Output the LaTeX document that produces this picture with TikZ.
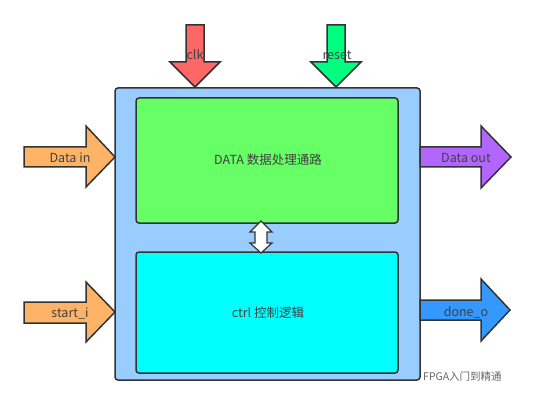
\documentclass[tikz,border=0pt]{standalone}
\usepackage{fontspec}
\setmainfont{Noto Sans CJK SC}
\begin{document}
\begin{tikzpicture}[x=1pt,y=-1pt,
  outl/.style={draw=black!80,line width=1.5pt,line join=miter},
  lbl/.style={text=black!75,font=\fontsize{12.5}{14}\selectfont,inner sep=0pt},
  boxs/.style={outl,rounded corners=3pt}]
\useasboundingbox (0,0) rectangle (535,406);
% outer box
\draw[boxs,fill={rgb,255:red,153;green,204;blue,255}] (115,88) rectangle (420,380);
% data path
\draw[boxs,fill={rgb,255:red,102;green,255;blue,102}] (136,98) rectangle (398,223);
\node[lbl] (data) at (268,160) {DATA 数据处理通路};
% ctrl
\draw[boxs,fill={rgb,255:red,0;green,255;blue,255}] (136,252) rectangle (398,373);
\node[lbl] (ctrl) at (268,313) {ctrl 控制逻辑};
% double arrow
\draw[outl,fill=white,line width=1.2pt] (261,221) -- (272,232) -- (267,232) -- (267,243) -- (272,243) -- (261,253)
  -- (250,243) -- (255,243) -- (255,232) -- (250,232) -- cycle;
% clk
\draw[outl,fill={rgb,255:red,255;green,102;blue,102}] (186,25) -- (204,25) -- (204,62) -- (220,62) -- (195,87) -- (170,62) -- (186,62) -- cycle;
\node[lbl] (clk) at (195,55) {clk};
% reset
\draw[outl,fill={rgb,255:red,0;green,255;blue,128}] (327,25) -- (345,25) -- (345,62) -- (361,62) -- (336,87) -- (311,62) -- (327,62) -- cycle;
\node[lbl] (reset) at (337,55) {reset};
% Data in
\draw[outl,fill={rgb,255:red,255;green,179;blue,102}] (24,147) -- (86,147) -- (86,126) -- (115,157) -- (86,187) -- (86,167) -- (24,167) -- cycle;
\node[lbl] (din) at (70,158) {Data in};
% start_i
\draw[outl,fill={rgb,255:red,255;green,179;blue,102}] (24,302) -- (86,302) -- (86,282) -- (115,312) -- (86,342) -- (86,323) -- (24,323) -- cycle;
\node[lbl] (start) at (70,314) {start\_i};
% Data out
\draw[outl,fill={rgb,255:red,178;green,102;blue,255}] (420,147) -- (481,147) -- (481,126) -- (511,157) -- (481,188) -- (481,167) -- (420,167) -- cycle;
\node[lbl] (dout) at (466,158) {Data out};
% done_o
\draw[outl,fill={rgb,255:red,51;green,153;blue,255}] (420,300) -- (481,300) -- (481,279) -- (510,310) -- (481,341) -- (481,320) -- (420,320) -- cycle;
\node[lbl] (done) at (466,312) {done\_o};
% watermark
\node[text=black!60,font=\fontsize{10.5}{12}\selectfont,inner sep=0pt,anchor=west] (wm) at (423,377) {FPGA入门到精通};
\end{tikzpicture}
\end{document}
